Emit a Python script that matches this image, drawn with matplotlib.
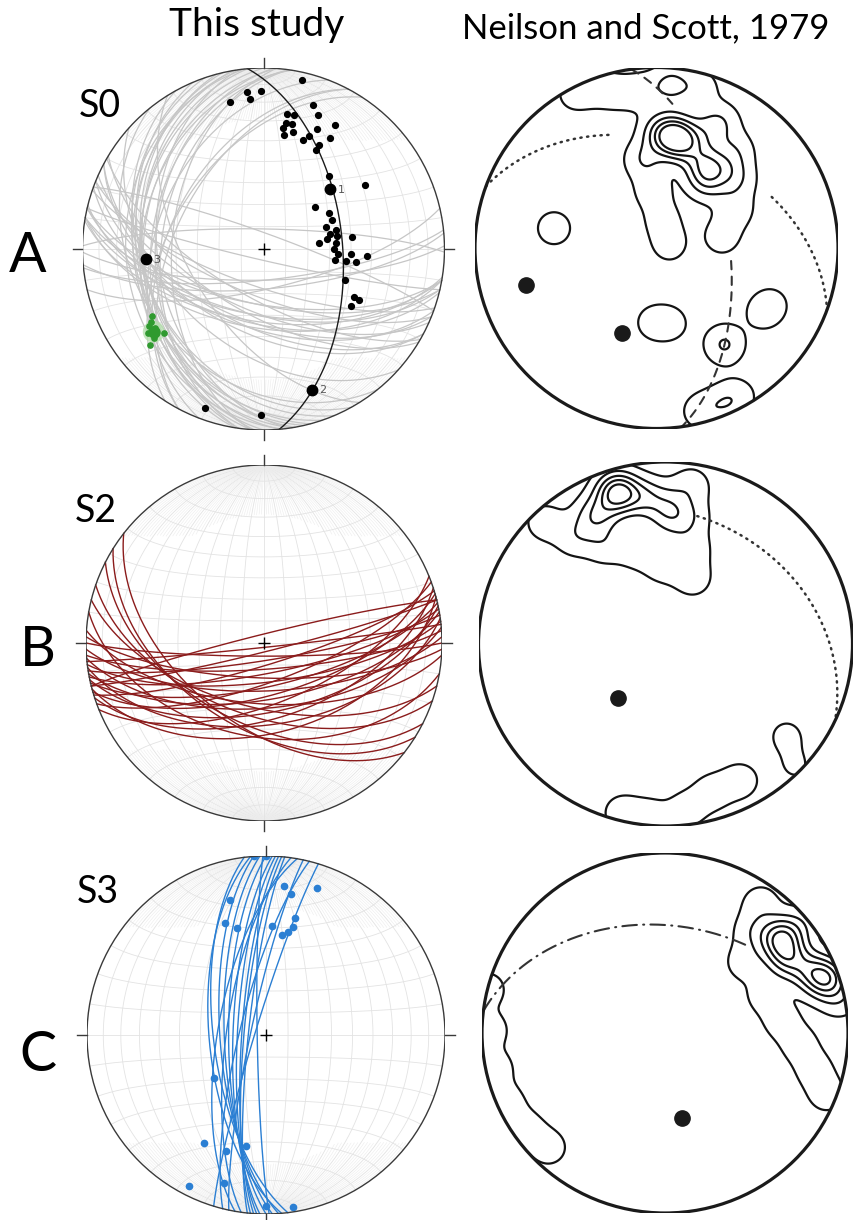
import numpy as np
import matplotlib.pyplot as plt
from matplotlib.patches import Circle

W, H = 859, 1220

# ---------------- data: this study ----------------
# S0 bedding: poles to bedding (trend, plunge)
s0_pole_trend = [13, 354, 359, 355, 347, 19, 10, 13, 22, 10, 9, 13, 30, 10, 14, 24, 22, 20,
                 31, 28, 28, 42, 58, 51, 61, 67, 71, 75, 77, 81, 84, 80, 82, 85, 90, 94,
                 99, 98, 98, 94, 93, 111, 118, 118, 123, 200, 181]
s0_pole_plunge = [5, 14, 14, 18, 18, 17, 25, 25, 21, 30, 33, 30, 22, 36, 34, 28, 33, 36,
                  29, 35, 38, 45, 34, 60, 56, 56, 60, 56, 59, 61, 65, 56, 49, 57, 58, 56,
                  57, 52, 47, 42, 50, 50, 43, 40, 42, 7, 9]
s0_eigen_trend = [48, 161, 265]
s0_eigen_plunge = [49, 19, 35]
s0_eigen_label = ["1", "2", "3"]
s0_girdle = (355, 54)  # strike, dip of best-fit girdle
# measured fold hinges (green)
s0_hinge_trend = [239, 237, 236, 234, 230, 234, 231, 230]
s0_hinge_plunge = [29, 27, 25, 27, 29, 22, 23, 19]
s0_hinge_mean = (233, 25)

# S2 cleavage planes (strike, dip, right-hand rule)
s2_strike = [68, 70, 72, 73, 74, 75, 76, 77, 78, 79, 80, 81, 82, 83, 84, 85, 86, 88, 90,
             92, 94, 256, 128, 122, 117, 109, 104, 100]
s2_dip = [62, 72, 55, 80, 66, 48, 86, 70, 58, 76, 64, 82, 52, 72, 88, 60, 78, 68, 84,
          74, 62, 86, 52, 50, 52, 56, 60, 46]

# S3 planes and lineations
s3_strike = [173, 175, 176, 178, 180, 182, 183, 184, 185, 186, 188, 192, 194, 197, 179, 190]
s3_dip = [66, 64, 69, 71, 73, 75, 77, 79, 80, 82, 72, 83, 78, 85, 86, 68]
s3_lin_trend = [356, 0, 7, 10, 19, 345, 340, 345, 3, 9, 12, 14, 14, 230, 210, 199, 190,
                196, 207, 180, 171]
s3_lin_plunge = [0, 0, 17, 21, 14, 23, 34, 38, 39, 43, 41, 38, 33, 59, 31, 32, 37, 15, 6,
                 5, 3]

# ---------------- data: Neilson and Scott, 1979 ----------------
# pole concentrations (trend, plunge, weight)
nsA_trend = [10, 2, 19, 31, 37, 354, 5, 15, 352, 356, 12, 75, 80, 64, 50, 39, 27, 339, 332,
             345, 281, 183, 169, 122, 116, 145, 165, 157, 151, 24, 41]
nsA_plunge = [38, 36, 40, 46, 52, 14, 10, 9, 49, 64, 77, 84, 60, 50, 41, 31, 22, 5, 4, 12,
              42, 56, 55, 32, 30, 35, 7, 7, 7, 29, 42]
nsA_weight = [5, 2, 1.5, 2.5, 1.5, 1, 1.7, 1, 1.4, 1, 0.9, 0.9, 1, 1, 1, 1, 1, 0.8, 0.8,
              0.8, 1, 0.8, 0.8, 0.7, 0.7, 1.6, 1, 1, 0.8, 1, 1]
nsA_dot_trend = [254, 202]
nsA_dot_plunge = [26, 48]
nsA_girdles = [(290, 41, [(0, 57), (128, 180)], "dot"), (352, 57, [(0, 25), (100, 180)], "dash")]

nsB_trend = [343, 352, 334, 1, 316, 320, 329, 343, 358, 22, 15, 11, 9, 194, 185, 173, 163,
             152, 128, 134, 330, 2]
nsB_plunge = [14, 20, 21, 25, 8, 25, 37, 45, 54, 58, 45, 30, 13, 5, 5, 9, 16, 16, 19, 4,
              22, 33]
nsB_weight = [5, 2, 1.5, 1.5, 1, 1, 1, 1, 1, 1, 1, 1, 1, 1, 1, 1, 1, 1, 0.75, 0.6, 1, 1]
nsB_dot_trend = [221]
nsB_dot_plunge = [58]
nsB_girdles = [(295, 29, [(80, 180)], "dot")]

nsC_trend = [50, 58, 71, 66, 51, 36, 40, 48, 69, 84, 95, 104, 111, 79, 284, 271, 258, 246,
             235, 225]
nsC_plunge = [19, 22, 8, 15, 6, 12, 27, 41, 41, 36, 27, 17, 6, 3, 0, 5, 6, 6, 8, 11]
nsC_weight = [4, 3, 4, 2, 1, 1, 1, 1, 1, 1, 1, 1, 1, 1, 1, 1, 1, 1, 1, 1]
nsC_dot_trend = [169]
nsC_dot_plunge = [50]
nsC_girdles = [(277, 40, [(0, 118)], "dashdot")]

levels = [0.5, 1.5, 2.5, 3.5, 4.5]

plt.rcParams['font.family'] = ['Lato', 'DejaVu Sans']


# ---------------- helpers ----------------
def vproj(e, n, d):
    k = 1.0 / np.sqrt(1.0 + d)
    return e * k, n * k


def line_xy(trend, plunge):
    t = np.radians(np.asarray(trend, float))
    p = np.radians(np.asarray(plunge, float))
    return vproj(np.cos(p) * np.sin(t), np.cos(p) * np.cos(t), np.sin(p))


def plane_xy(strike, dip, rake0=0, rake1=180, n=200):
    s, d = np.radians(strike), np.radians(dip)
    a = np.radians(np.linspace(rake0, rake1, n))
    e = np.cos(a) * np.sin(s) + np.sin(a) * np.cos(s) * np.cos(d)
    nn = np.cos(a) * np.cos(s) - np.sin(a) * np.sin(s) * np.cos(d)
    dd = np.sin(a) * np.sin(d)
    return vproj(e, nn, np.clip(dd, 0, 1))


def make_ax(cx, cy, rx, ry):
    ax = fig.add_axes([(cx - rx) / W, 1 - (cy + ry) / H, 2 * rx / W, 2 * ry / H])
    ax.set_xlim(-1, 1)
    ax.set_ylim(-1, 1)
    ax.axis('off')
    return ax


def draw_net(ax):
    gc = '#e3e3e3'
    for d in range(10, 90, 10):
        for s in (0, 180):
            x, y = plane_xy(s, d)
            ax.plot(x, y, color=gc, lw=0.6, zorder=1)
    # fine meridians near the poles
    for d in range(2, 90, 2):
        if d % 10 == 0:
            continue
        for s in (0, 180):
            x, y = plane_xy(s, d, n=400)
            near = np.hypot(x, y) > 0.72
            near &= np.abs(y) > 0.6
            ax.plot(np.where(near, x, np.nan), np.where(near, y, np.nan),
                    color='#ececec', lw=0.4, zorder=1)
    phi = np.linspace(0, np.pi, 200)
    for c in range(10, 90, 10):
        cr = np.radians(c)
        for sgn in (1, -1):
            x, y = vproj(np.sin(cr) * np.cos(phi), sgn * np.cos(cr) * np.ones_like(phi),
                         np.sin(cr) * np.sin(phi))
            ax.plot(x, y, color=gc, lw=0.6, zorder=1)
    ax.plot([-1, 1], [0, 0], color=gc, lw=0.6, zorder=1)
    ax.plot([0, 0], [-1, 1], color=gc, lw=0.6, zorder=1)


def draw_frame(ax):
    ax.add_patch(Circle((0, 0), 1, fill=False, color='#3a3a3a', lw=1.0, zorder=6))
    for x0, y0, x1, y1 in [(0, 1, 0, 1.055), (1, 0, 1.055, 0), (0, -1, 0, -1.055),
                           (-1, 0, -1.055, 0)]:
        ax.plot([x0, x1], [y0, y1], color='#3a3a3a', lw=1.0, clip_on=False, zorder=6)
    ax.plot([0], [0], marker='+', ms=9, mew=1.0, color='k', zorder=7)


def draw_ns(ax, trend, plunge, weight, dots_t, dots_p, girdles):
    px, py = line_xy(trend, plunge)
    g = np.linspace(-1.05, 1.05, 320)
    X, Y = np.meshgrid(g, g)
    Z = np.zeros_like(X)
    sig = 0.075
    for x0, y0, w in zip(px, py, weight):
        Z += w * np.exp(-((X - x0) ** 2 + (Y - y0) ** 2) / (2 * sig ** 2))
    clip = Circle((0, 0), 1, transform=ax.transData)
    cs = ax.contour(X, Y, Z, levels=levels, colors='#141414', linewidths=1.6)
    cs.set_clip_path(clip)
    styles = {"dot": (0, (0.5, 2.2)), "dash": (0, (4, 3.5)), "dashdot": (0, (7, 3, 0.5, 3))}
    for s, d, parts, st in girdles:
        for r0, r1 in parts:
            x, y = plane_xy(s, d, r0, r1)
            ax.plot(x, y, color='#333333', lw=1.8 if st == "dot" else 1.5,
                    linestyle=styles[st], dash_capstyle='round')
    dx, dy = line_xy(dots_t, dots_p)
    ax.plot(dx, dy, 'o', color='#1a1a1a', ms=11, zorder=5)
    ax.add_patch(Circle((0, 0), 1, fill=False, color='#1a1a1a', lw=2.3, zorder=6))


fig = plt.figure(figsize=(W / 100, H / 100), dpi=100)

# ---- A: S0 ----
ax = make_ax(263.5, 249, 181, 181)
draw_net(ax)
for t, p in zip(s0_pole_trend, s0_pole_plunge):
    x, y = plane_xy(t + 90, 90 - p)
    ax.plot(x, y, color='#c6c6c6', lw=0.9, zorder=2)
x, y = plane_xy(*s0_girdle)
ax.plot(x, y, color='#1a1a1a', lw=1.0, zorder=3)
x, y = line_xy(s0_pole_trend, s0_pole_plunge)
ax.plot(x, y, 'o', color='k', ms=4.2, zorder=4)
x, y = line_xy(s0_eigen_trend, s0_eigen_plunge)
ax.plot(x, y, 'o', color='k', ms=7.5, zorder=4)
for xi, yi, lab in zip(x, y, s0_eigen_label):
    ax.text(xi + 0.04, yi - 0.005, lab, fontsize=8, color='#555555', va='center',
            family='DejaVu Sans')
hx, hy = line_xy([s0_hinge_mean[0]], [s0_hinge_mean[1]])
ax.add_patch(Circle((hx[0], hy[0]), 0.06, color='#b5e0ad', alpha=0.8, lw=0, zorder=3))
x, y = line_xy(s0_hinge_trend, s0_hinge_plunge)
ax.plot(x, y, 'o', color='#2f9a2f', ms=3.8, zorder=4)
ax.plot(hx, hy, 'o', color='#2f9a2f', ms=8, zorder=4)
draw_frame(ax)

# ---- B: S2 ----
ax = make_ax(264, 643, 178, 178)
draw_net(ax)
for s, d in zip(s2_strike, s2_dip):
    x, y = plane_xy(s, d)
    ax.plot(x, y, color='#8b1c1c', lw=1.0, zorder=2)
draw_frame(ax)

# ---- C: S3 ----
ax = make_ax(266, 1035, 179, 179)
draw_net(ax)
for s, d in zip(s3_strike, s3_dip):
    x, y = plane_xy(s, d)
    ax.plot(x, y, color='#2b7fd3', lw=1.0, zorder=2)
x, y = line_xy(s3_lin_trend, s3_lin_plunge)
ax.plot(x, y, 'o', color='#2b7fd3', ms=4.5, zorder=4)
draw_frame(ax)

# ---- Neilson and Scott ----
ax = make_ax(656.5, 248, 181.5, 180.5)
draw_ns(ax, nsA_trend, nsA_plunge, nsA_weight, nsA_dot_trend, nsA_dot_plunge, nsA_girdles)
ax = make_ax(665.5, 644, 187, 182)
draw_ns(ax, nsB_trend, nsB_plunge, nsB_weight, nsB_dot_trend, nsB_dot_plunge, nsB_girdles)
ax = make_ax(665, 1033, 183, 180)
draw_ns(ax, nsC_trend, nsC_plunge, nsC_weight, nsC_dot_trend, nsC_dot_plunge, nsC_girdles)

# ---- text ----
fig.text(257 / W, 1 - 36 / H, "This study", ha='center', va='baseline', fontsize=28)
fig.text(646 / W, 1 - 38 / H, "Neilson and Scott, 1979", ha='center', va='baseline',
         fontsize=25)
for lab, x0, y0 in [("A", 28, 272), ("B", 38, 666), ("C", 38, 1071)]:
    fig.text(x0 / W, 1 - y0 / H, lab, ha='center', va='baseline', fontsize=40)
for lab, x0, y0 in [("S0", 100, 117), ("S2", 96, 522), ("S3", 98, 903)]:
    fig.text(x0 / W, 1 - y0 / H, lab, ha='center', va='baseline', fontsize=27)

fig.savefig("out.png", dpi=100)
